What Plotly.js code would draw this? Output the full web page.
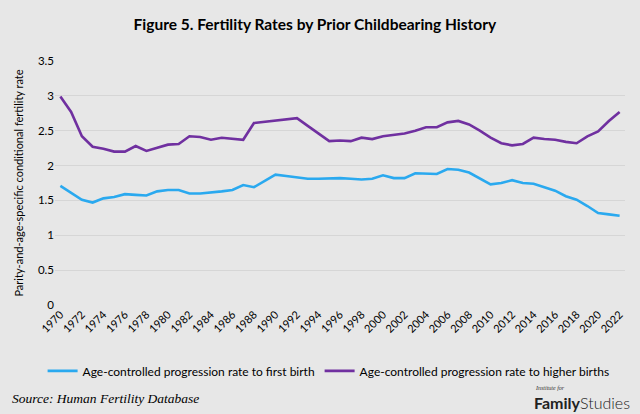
<!DOCTYPE html>
<html>
<head>
<meta charset="utf-8">
<script src="https://cdn.plot.ly/plotly-3.0.1.min.js"></script>
<style>
html,body{margin:0;padding:0;background:#e7e7e7;}
#chart{width:640px;height:414px;}
</style>
</head>
<body>
<div id="chart"></div>
<script>
const years = [1970,1971,1972,1973,1974,1975,1976,1977,1978,1979,1980,1981,1982,1983,1984,1985,1986,1987,1988,1989,1990,1991,1992,1993,1994,1995,1996,1997,1998,1999,2000,2001,2002,2003,2004,2005,2006,2007,2008,2009,2010,2011,2012,2013,2014,2015,2016,2017,2018,2019,2020,2021,2022];
const firstBirth = [1.71,1.61,1.51,1.47,1.53,1.55,1.59,1.58,1.57,1.63,1.65,1.65,1.60,1.60,1.61,1.63,1.65,1.72,1.69,1.78,1.87,1.85,1.83,1.81,1.81,1.82,1.82,1.81,1.80,1.81,1.86,1.82,1.82,1.89,1.89,1.88,1.95,1.94,1.90,1.82,1.73,1.75,1.79,1.75,1.74,1.69,1.64,1.56,1.51,1.42,1.32,1.30,1.28];
const higherBirths = [2.99,2.77,2.42,2.27,2.24,2.20,2.20,2.28,2.21,2.26,2.30,2.31,2.42,2.41,2.37,2.40,2.38,2.37,2.61,2.63,2.64,2.67,2.68,2.57,2.46,2.35,2.36,2.35,2.40,2.38,2.42,2.44,2.46,2.50,2.55,2.55,2.62,2.64,2.59,2.50,2.40,2.32,2.29,2.31,2.40,2.38,2.37,2.34,2.32,2.42,2.49,2.64,2.77];
const seriesNames = ["Age-controlled progression rate to first birth","Age-controlled progression rate to higher births"];
const tickYears = years.filter(y => y % 2 === 0);
const tickLabels = tickYears.map(String);

const font = "Lato, 'Open Sans', sans-serif";
const traces = [
  {x: years, y: firstBirth, name: seriesNames[0], type: "scatter", mode: "lines",
   line: {color: "#2aa9ef", width: 2.6}},
  {x: years, y: higherBirths, name: seriesNames[1], type: "scatter", mode: "lines",
   line: {color: "#7030a0", width: 2.6}}
];
const layout = {
  width: 640, height: 414,
  paper_bgcolor: "#e7e7e7", plot_bgcolor: "#e7e7e7",
  margin: {l: 55, r: 15, t: 61, b: 109},
  font: {family: font, color: "#000", size: 11},
  title: {text: "<b>Figure 5. Fertility Rates by Prior Childbearing History</b>",
          x: 0.492, xanchor: "center", y: 0.94, yanchor: "middle",
          font: {family: font, size: 15.5, color: "#000"}},
  xaxis: {range: [1969.5, 2022.5], tickmode: "array", tickvals: tickYears, ticktext: tickLabels,
          tickangle: -45, showgrid: false, zeroline: false, showline: false, ticks: "",
          tickfont: {size: 11, family: font}},
  yaxis: {range: [0, 3.5], tickmode: "array", tickvals: [0,0.5,1,1.5,2,2.5,3,3.5],
          ticktext: ["0","0.5","1","1.5","2","2.5","3","3.5"],
          gridcolor: "#d6d6d6", gridwidth: 1, zeroline: false, showline: false,
          ticks: "", tickfont: {size: 11.5, family: font},
          title: {text: "Parity-and-age-specific conditional fertility rate", standoff: 12,
                  font: {size: 11, family: font}}},
  showlegend: true,
  legend: {orientation: "h", x: 0.48, xanchor: "center",
           y: -0.27, yanchor: "middle",
           font: {size: 12, family: font}, bgcolor: "rgba(0,0,0,0)", itemwidth: 30,
           tracegroupgap: 0},
  annotations: [
    {text: "<i>Source: Human Fertility Database</i>", xref: "paper", yref: "paper",
     x: -0.079, y: -0.382, xanchor: "left", yanchor: "middle", showarrow: false,
     font: {family: "'Liberation Serif', 'Times New Roman', serif", size: 13.5, color: "#000"}},
    {text: "<i>Institute for</i>", xref: "paper", yref: "paper",
     x: 0.838, y: -0.342, xanchor: "left", yanchor: "middle", showarrow: false,
     font: {family: "'Liberation Serif', serif", size: 6, color: "#333"}},
    {text: "<b>Family</b><span style=\"font-weight:300\">Studies</span>", xref: "paper", yref: "paper",
     x: 0.836, y: -0.398, xanchor: "left", yanchor: "middle", showarrow: false,
     font: {family: font, size: 16, color: "#222"}}
  ]
};
Plotly.newPlot("chart", traces, layout, {displayModeBar: false, staticPlot: true});
</script>
</body>
</html>
